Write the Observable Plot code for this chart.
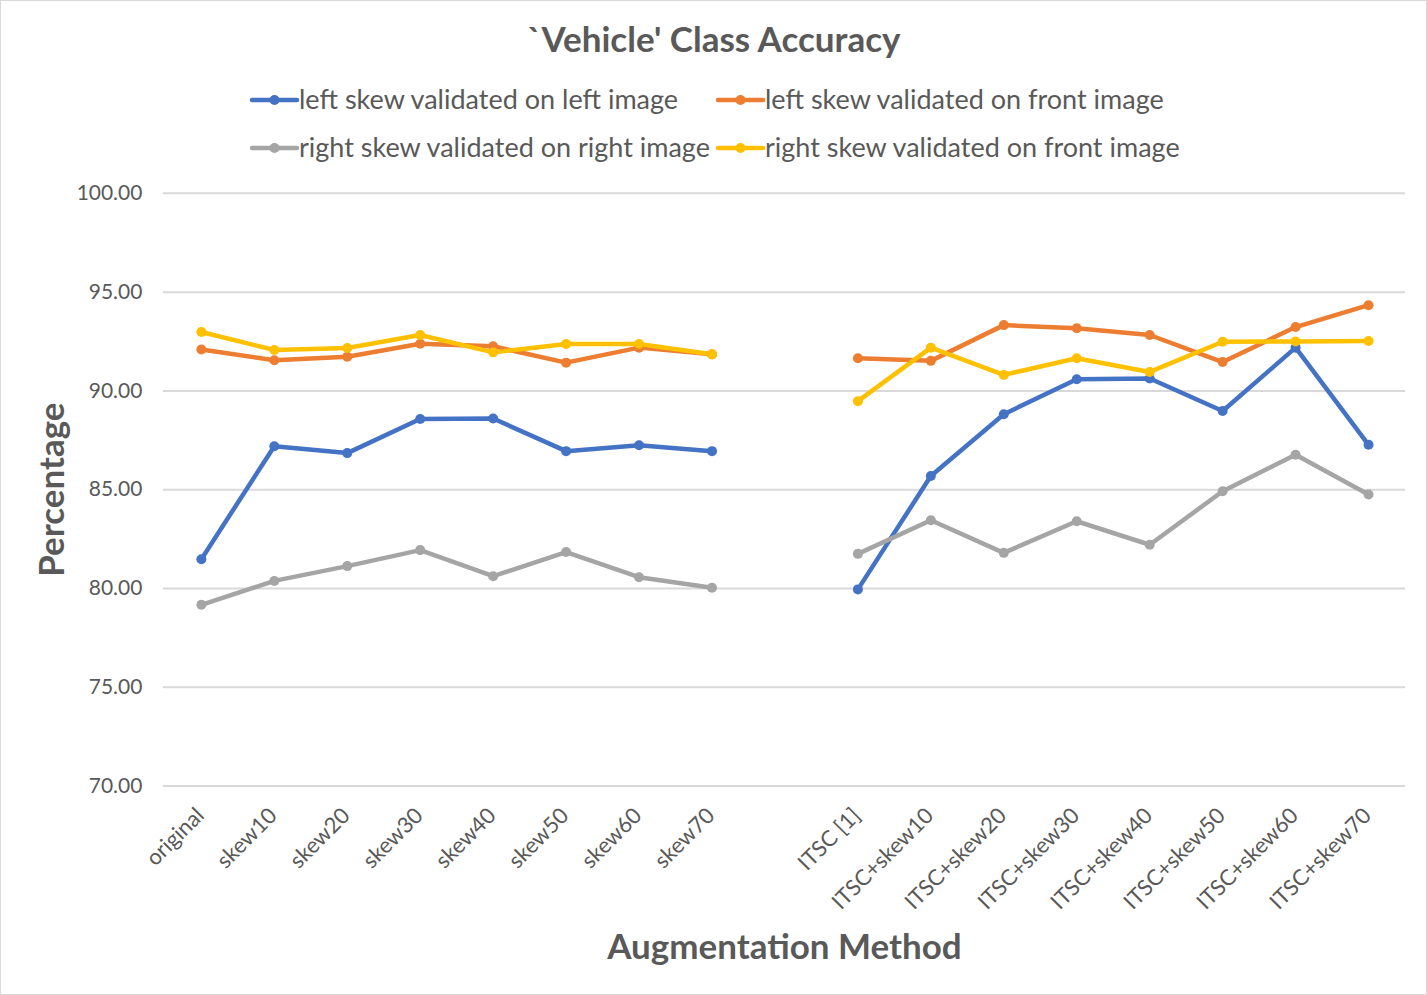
<!DOCTYPE html>
<html>
<head>
<meta charset="utf-8">
<script src="https://cdn.jsdelivr.net/npm/d3@7"></script>
<script src="https://cdn.jsdelivr.net/npm/@observablehq/plot@0.6"></script>
<style>
  body { margin: 0; background: #fff; }
  #wrap { position: relative; width: 1427px; height: 995px; box-sizing: border-box; border: 1px solid #d9d9d9; font-family: Lato, "Open Sans", sans-serif; color: #595959; overflow: hidden; }
  #chart { position: absolute; left: -1px; top: -1px; }
  #head { position: absolute; left: -1px; top: -1px; }
</style>
</head>
<body>
<div id="wrap">
  <div id="chart"></div>
  <svg id="head" width="1427" height="180" font-family="Lato, 'Open Sans', sans-serif" fill="#595959"></svg>
</div>
<script>
const chartTitle = "`Vehicle' Class Accuracy";
const methodsA = ["original", "skew10", "skew20", "skew30", "skew40", "skew50", "skew60", "skew70"];
const methodsB = ["ITSC [1]", "ITSC+skew10", "ITSC+skew20", "ITSC+skew30", "ITSC+skew40", "ITSC+skew50", "ITSC+skew60", "ITSC+skew70"];
const seriesNames = [
  "left skew validated on left image",
  "left skew validated on front image",
  "right skew validated on right image",
  "right skew validated on front image"
];
const seriesColors = ["#4472C4", "#ED7D31", "#A5A5A5", "#FFC000"];
const leftOnLeft   = [81.48, 87.20, 86.85, 88.58, 88.60, 86.95, 87.25, 86.95, 79.95, 85.69, 88.82, 90.59, 90.63, 88.98, 92.19, 87.27];
const leftOnFront  = [92.10, 91.55, 91.73, 92.39, 92.26, 91.43, 92.19, 91.85, 91.65, 91.52, 93.33, 93.17, 92.83, 91.46, 93.23, 94.34];
const rightOnRight = [79.17, 80.38, 81.13, 81.94, 80.62, 81.84, 80.57, 80.03, 81.75, 83.45, 81.80, 83.40, 82.21, 84.92, 86.77, 84.75];
const rightOnFront = [92.98, 92.07, 92.17, 92.83, 91.95, 92.37, 92.37, 91.85, 89.48, 92.19, 90.81, 91.65, 90.96, 92.49, 92.50, 92.53];
const yTicks = [70, 75, 80, 85, 90, 95, 100];

const methods = methodsA.concat(methodsB);
const xDomain = methodsA.concat([""], methodsB);
const seriesValues = [leftOnLeft, leftOnFront, rightOnRight, rightOnFront];
const data = [];
seriesValues.forEach((vals, s) => {
  vals.forEach((v, i) => {
    data.push({method: methods[i], value: v, series: seriesNames[s], group: i < 8 ? "a" : "b"});
  });
});

const H = 995;
const chart = Plot.plot({
  width: 1427,
  height: H,
  marginTop: 193,
  marginBottom: H - 786,
  marginLeft: 163,
  marginRight: 21,
  style: {fontFamily: "Lato, 'Open Sans', sans-serif", color: "#595959", background: "transparent", overflow: "visible"},
  x: {type: "point", domain: xDomain, padding: 0.5},
  y: {domain: [70, 100]},
  color: {domain: seriesNames, range: seriesColors},
  marks: [
    Plot.gridY(yTicks, {stroke: "#D9D9D9", strokeOpacity: 1, strokeWidth: 2}),
    Plot.axisY(yTicks, {tickFormat: d => d.toFixed(2), tickSize: 0, tickPadding: 21, fontSize: 21, label: null}),
    Plot.axisX({tickSize: 0, tickRotate: -45, tickPadding: 26, dx: -1, fontSize: 22, label: null}),
    Plot.lineY(data, {x: "method", y: "value", z: d => d.series + d.group, stroke: "series", strokeWidth: 4.5}),
    Plot.dot(data, {x: "method", y: "value", fill: "series", r: 5}),
    Plot.text(["Percentage"], {frameAnchor: "left", textAnchor: "middle", lineAnchor: "middle", dx: -111, rotate: -90, fontSize: 35, fontWeight: "bold", fill: "#595959"}),
    Plot.text(["Augmentation Method"], {frameAnchor: "bottom", textAnchor: "middle", lineAnchor: "middle", dy: 162, fontSize: 35, fontWeight: "bold", fill: "#595959"})
  ]
});
document.getElementById("chart").appendChild(chart);

// title and legend (SVG text)
const head = d3.select("#head");
head.append("text").attr("x", 714).attr("y", 52).attr("text-anchor", "middle")
  .attr("font-size", 35).attr("font-weight", "bold").text(chartTitle);
const legendPos = [[252, 100], [718, 100], [252, 148], [718, 148]];
seriesNames.forEach((name, i) => {
  const [lx, ly] = legendPos[i];
  const c = seriesColors[i];
  head.append("line").attr("x1", lx).attr("x2", lx + 45).attr("y1", ly).attr("y2", ly)
    .attr("stroke", c).attr("stroke-width", 4.5).attr("stroke-linecap", "round");
  head.append("circle").attr("cx", lx + 22.5).attr("cy", ly).attr("r", 5).attr("fill", c);
  head.append("text").attr("x", lx + 47).attr("y", ly + 8.5).attr("font-size", 27).text(name);
});
</script>
</body>
</html>
